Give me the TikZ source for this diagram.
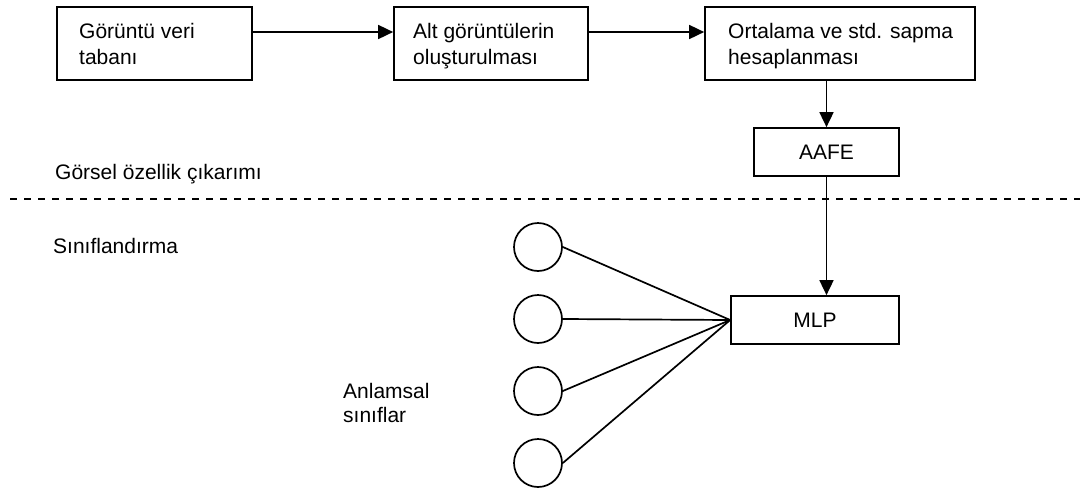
\documentclass[tikz,border=0pt]{standalone}
\usepackage{fontspec}
\setmainfont{Liberation Sans}
\usetikzlibrary{arrows.meta}
\begin{document}
\begin{tikzpicture}[x=1pt,y=-1pt,
  lw/.style={line width=1.7pt},
  box/.style={draw,lw,rectangle,inner sep=0pt},
  txt/.style={inner sep=0pt,align=left,font=\fontsize{21}{26}\selectfont},
  ctxt/.style={inner sep=0pt,font=\fontsize{21}{26}\selectfont},
  unit/.style={draw,lw,circle,minimum size=48pt,inner sep=0pt},
  arr/.style={lw,-{Triangle[length=15pt,width=14pt]}},
  sep/.style={lw,dash pattern=on 7pt off 7pt}]
\useasboundingbox (0,0) rectangle (1085,488);

% feature extraction pipeline (text nodes anchored at the last line's baseline)
\node[box,minimum width=195pt,minimum height=73pt] (b1) at (154.5,43.5) {};
\node[txt,anchor=base west] (t1) at (79,64) {Görüntü veri\\tabanı};
\node[box,minimum width=194pt,minimum height=73pt] (b2) at (491,43.5) {};
\node[txt,anchor=base west] (t2) at (413,64) {Alt görüntülerin\\oluşturulması};
\node[box,minimum width=270pt,minimum height=73pt] (b3) at (840,43.5) {};
\node[txt,anchor=base west] (t3) at (728,64) {Ortalama ve std. sapma\\hesaplanması};
\node[box,minimum width=145pt,minimum height=48pt] (aafe) at (826.5,152) {};
\node[ctxt] (ta) at (aafe.center) {AAFE};

% classification
\node[box,minimum width=168pt,minimum height=48pt] (mlp) at (815,320) {};
\node[ctxt] (tm) at (mlp.center) {MLP};
\node[unit] (c1) at (538,247) {};
\node[unit] (c2) at (538,319) {};
\node[unit] (c3) at (538,391) {};
\node[unit] (c4) at (538,463) {};

% section labels and separator
\node[txt,anchor=base west] (l1) at (55,179) {Görsel özellik çıkarımı};
\node[txt,anchor=base west] (l2) at (53,253) {Sınıflandırma};
\node[txt,anchor=base west,font=\fontsize{21}{24}\selectfont] (l3) at (343,422) {Anlamsal\\sınıflar};
\coordinate (dl) at (10,199);
\coordinate (dr) at (1080,199);
\draw[sep] (dl) -- (dr);

% connectors
\draw[arr] ([yshift=11.5pt]b1.east) -- ([yshift=11.5pt]b2.west);
\draw[arr] ([yshift=11.5pt]b2.east) -- ([yshift=11.5pt]b3.west);
\draw[arr] (aafe.north |- b3.south) -- (aafe.north);
\draw[arr] (aafe.south) -- (aafe.south |- mlp.north);
\foreach \c in {c1,c2,c3,c4}
  \draw[lw] (\c.east) -- (mlp.west);
\end{tikzpicture}
\end{document}
